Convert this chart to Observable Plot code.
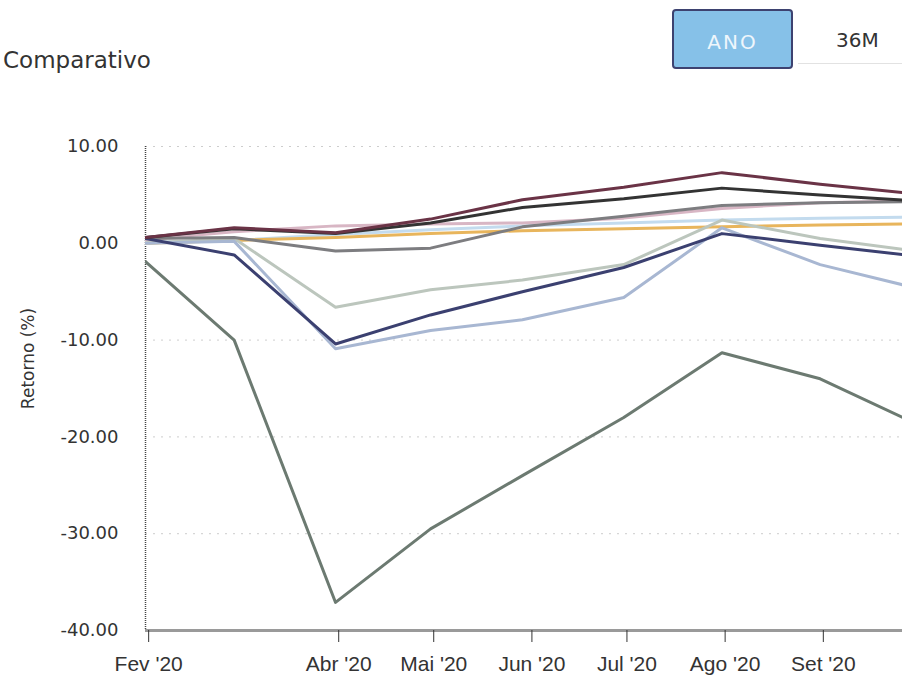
<!DOCTYPE html>
<html><head><meta charset="utf-8">
<script src="https://cdn.jsdelivr.net/npm/d3@7"></script>
<script src="https://cdn.jsdelivr.net/npm/@observablehq/plot@0.6"></script>
<style>
html,body{margin:0;padding:0;background:#fff;overflow:hidden;width:902px;height:682px}
#wrap{position:relative;width:902px;height:682px}
#title{position:absolute;left:3px;top:49px;font-family:"DejaVu Sans";font-size:23px;line-height:23px;color:#333}
#ano{position:absolute;left:672px;top:9px;width:117px;height:56px;background:#86c1e8;border:2px solid #3d4270;border-radius:4px;box-sizing:content-box}
#ano span{position:absolute;left:0;right:0;top:21px;text-align:center;font-family:"DejaVu Sans";font-size:20px;line-height:20px;letter-spacing:2px;color:#eef6fc}
#m36{position:absolute;left:836px;top:30px;font-family:"DejaVu Sans";font-size:20px;line-height:20px;color:#333}
#m36line{position:absolute;left:798px;top:63px;width:104px;height:1px;background:#e2e2e2}
#chart{position:absolute;left:0;top:110px}
</style></head>
<body><div id="wrap">
<div id="title">Comparativo</div>
<div id="ano"><span>ANO</span></div>
<div id="m36">36M</div>
<div id="m36line"></div>
<div id="chart"></div>
</div>
<script>
// Month-end observation dates
const dates = ["2020-01-31","2020-02-28","2020-03-31","2020-04-30","2020-05-29","2020-06-30","2020-07-31","2020-08-31","2020-09-30"];

// Series values (Retorno %)
const sLightCyan = [0.1, 0.3, 0.9, 1.4, 1.8, 2.1, 2.4, 2.6, 2.7];
const sOrange    = [0.0, 0.3, 0.6, 1.0, 1.3, 1.5, 1.7, 1.9, 2.0];
const sPink      = [0.4, 1.2, 1.8, 2.0, 2.1, 2.6, 3.6, 4.2, 4.4];
const sLightGray = [0.0, 0.5, -6.6, -4.8, -3.8, -2.2, 2.4, 0.5, -0.8];
const sBlueGray  = [0.0, 0.2, -10.9, -9.0, -7.9, -5.6, 1.6, -2.2, -4.6];
const sGray      = [0.5, 0.6, -0.8, -0.5, 1.7, 2.8, 3.9, 4.2, 4.3];
const sSteep     = [-1.9, -10.0, -37.1, -29.5, -24.0, -18.0, -11.3, -14.0, -18.6];
const sNavy      = [0.5, -1.2, -10.4, -7.4, -5.0, -2.5, 1.0, -0.2, -1.3];
const sBlack     = [0.6, 1.5, 1.0, 2.1, 3.7, 4.6, 5.7, 5.0, 4.4];
const sMaroon    = [0.6, 1.6, 1.1, 2.5, 4.5, 5.8, 7.3, 6.1, 5.1];

const seriesNames  = ["Série 1","Série 2","Série 3","Série 4","Série 5","Série 6","Série 7","Série 8","Série 9","Série 10"];
const seriesValues = [sLightCyan, sOrange, sPink, sLightGray, sBlueGray, sGray, sSteep, sNavy, sBlack, sMaroon];
const seriesColors = ["#c3dbee","#e8b55c","#d8b6c4","#bcc6bd","#a8b7d2","#7d7d80","#6c7a71","#3b4070","#333333","#6a3346"];

// Axis ticks
const xTickDates  = ["2020-02-01","2020-04-01","2020-05-01","2020-06-01","2020-07-01","2020-08-01","2020-09-01"];
const xTickLabels = ["Fev '20","Abr '20","Mai '20","Jun '20","Jul '20","Ago '20","Set '20"];
const yTicks = [10, 0, -10, -20, -30, -40];
const gridTicks = [10, -10, -20, -30];

const rows = [];
seriesNames.forEach((s, k) => dates.forEach((d, i) => rows.push({series: s, date: new Date(d), value: seriesValues[k][i]})));

const xTicks = xTickDates.map(d => new Date(d));
const labelFor = d => xTickLabels[xTicks.findIndex(t => +t === +d)];
const start = new Date("2020-01-31");

const chart = Plot.plot({
  width: 902, height: 572,
  marginTop: 36, marginBottom: 52, marginLeft: 145, marginRight: 0,
  style: {background: "transparent", overflow: "visible"},
  x: {type: "utc", domain: [start, new Date("2020-09-26")]},
  y: {domain: [-40, 10]},
  color: {domain: seriesNames, range: seriesColors},
  marks: [
    Plot.gridY(gridTicks, {stroke: "#b8b8b8", strokeOpacity: 0.7, strokeDasharray: "2,6"}),
    Plot.ruleX([start], {stroke: "#444", strokeDasharray: "1,1", strokeWidth: 1.5}),
    Plot.line(rows, {x: "date", y: "value", z: "series", stroke: "series", strokeWidth: 3, clip: true}),
    Plot.ruleY([-40], {stroke: "#9a9a9a", strokeWidth: 3}),
    Plot.axisY(yTicks, {tickSize: 0, tickPadding: 27, tickFormat: d => d.toFixed(2), fontSize: 18, fontFamily: "DejaVu Sans", color: "#333", label: null}),
    Plot.axisX(xTicks, {tickSize: 12, tickPadding: 14, tickFormat: labelFor, fontSize: 21, fontFamily: "Liberation Sans", color: "#333", label: null}),
    Plot.text(["Retorno (%)"], {frameAnchor: "left", textAnchor: "middle", text: d => d, rotate: -90, dx: -117, dy: -30, fontSize: 17, fontFamily: "DejaVu Sans", fill: "#333"})
  ]
});
document.getElementById("chart").appendChild(chart);
</script>
</body></html>
